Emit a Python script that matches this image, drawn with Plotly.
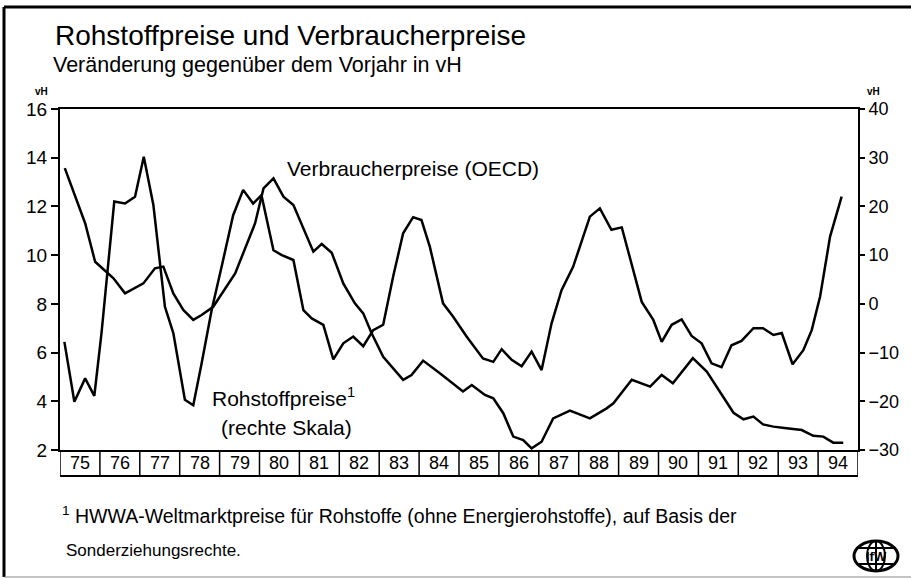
import plotly.graph_objects as go

# ---------------- data ----------------
cpi_t = [1975.12, 1975.63, 1975.88, 1976.34, 1976.63, 1977.09, 1977.38, 1977.59, 1977.84,
         1978.09, 1978.34, 1978.55, 1978.84, 1979.39, 1979.89, 1980.10, 1980.35, 1980.60,
         1980.85, 1981.35, 1981.56, 1981.81, 1982.10, 1982.39, 1982.60, 1982.81, 1983.10,
         1983.60, 1983.81, 1984.10, 1984.52, 1985.10, 1985.32, 1985.65, 1985.86, 1986.11,
         1986.36, 1986.61, 1986.82, 1987.07, 1987.36, 1987.78, 1988.28, 1988.70, 1988.87,
         1989.33, 1989.79, 1990.08, 1990.36, 1990.86, 1991.21, 1991.54, 1991.88, 1992.13,
         1992.38, 1992.62, 1992.88, 1993.21, 1993.59, 1993.88, 1994.13, 1994.38, 1994.63]
cpi_v = [13.57, 11.31, 9.73, 9.05, 8.43, 8.84, 9.46, 9.53, 8.43,
         7.75, 7.34, 7.54, 7.88, 9.25, 11.31, 12.74, 13.15, 12.40,
         12.06, 10.14, 10.46, 10.10, 8.84, 8.02, 7.61, 6.79, 5.83,
         4.88, 5.08, 5.67, 5.15, 4.40, 4.67, 4.26, 4.12, 3.51,
         2.55, 2.41, 2.07, 2.34, 3.30, 3.62, 3.30, 3.71, 3.92,
         4.88, 4.60, 5.08, 4.74, 5.77, 5.22, 4.40, 3.53, 3.26,
         3.37, 3.05, 2.96, 2.89, 2.82, 2.58, 2.55, 2.30, 2.30]

raw_t = [1975.11, 1975.36, 1975.63, 1975.86, 1976.04, 1976.21, 1976.36, 1976.63, 1976.88,
         1977.10, 1977.34, 1977.63, 1977.84, 1978.13, 1978.34, 1978.55, 1978.80, 1979.05,
         1979.34, 1979.59, 1979.84, 1980.05, 1980.35, 1980.56, 1980.85, 1981.10, 1981.31,
         1981.60, 1981.85, 1982.10, 1982.35, 1982.60, 1982.85, 1983.10, 1983.35, 1983.60,
         1983.85, 1984.06, 1984.27, 1984.60, 1984.85, 1985.19, 1985.60, 1985.86, 1986.07,
         1986.32, 1986.57, 1986.82, 1987.07, 1987.32, 1987.57, 1987.86, 1988.28, 1988.53,
         1988.82, 1989.08, 1989.33, 1989.58, 1989.87, 1990.08, 1990.33, 1990.58, 1990.83,
         1991.08, 1991.33, 1991.58, 1991.83, 1992.08, 1992.38, 1992.62, 1992.88, 1993.09,
         1993.36, 1993.63, 1993.84, 1994.05, 1994.30, 1994.59]
raw_v = [-7.8, -20.1, -15.3, -18.9, -6.0, 8.3, 21.0, 20.6, 22.0,
         30.2, 20.3, -0.6, -6.0, -19.7, -20.8, -12.2, -1.3, 7.6,
         18.2, 23.4, 20.6, 22.3, 11.0, 10.0, 9.0, -1.3, -3.0,
         -4.3, -11.4, -8.1, -6.7, -8.7, -5.4, -4.3, 5.6, 14.5,
         17.8, 17.2, 11.7, 0.1, -2.6, -6.7, -11.2, -11.9, -9.3,
         -11.5, -12.8, -9.8, -13.6, -4.0, 2.8, 7.6, 17.9, 19.6,
         15.2, 15.7, 8.3, 0.4, -3.3, -7.8, -4.3, -3.2, -6.6,
         -8.1, -12.2, -13.0, -8.5, -7.6, -5.0, -5.0, -6.4, -6.0,
         -12.4, -9.5, -5.4, 1.5, 13.8, 22.0]

years = list(range(1975, 1995))
year_labels = [f"{y % 100:02d}" for y in years]

left_ticks = [2, 4, 6, 8, 10, 12, 14, 16]
right_ticks = [-30, -20, -10, 0, 10, 20, 30, 40]

# ---------------- figure ----------------
FONT = "Liberation Sans, Arial, sans-serif"

W, H = 911, 579
L, R, T, B = 60, 858, 109, 450


def px(x):
    return (x - L) / (R - L)


def py(y):
    return (B - y) / (B - T)


fig = go.Figure()
fig.add_trace(go.Scatter(x=cpi_t, y=cpi_v, mode="lines", yaxis="y",
                         line=dict(color="black", width=2.5), showlegend=False))
fig.add_trace(go.Scatter(x=raw_t, y=raw_v, mode="lines", yaxis="y2",
                         line=dict(color="black", width=2.5), showlegend=False))

shapes = []
# year boxes under the axis
for y in years + [1995]:
    shapes.append(dict(type="line", xref="x", yref="paper", x0=y, x1=y, y0=0, y1=py(476),
                       line=dict(color="black", width=1.5)))
shapes.append(dict(type="line", xref="x", yref="paper", x0=1975, x1=1995, y0=py(476), y1=py(476),
                   line=dict(color="black", width=2)))
# page frame
shapes.append(dict(type="line", xref="paper", yref="paper", x0=px(4), x1=px(911), y0=py(7), y1=py(7),
                   line=dict(color="black", width=3)))
shapes.append(dict(type="line", xref="paper", yref="paper", x0=px(4), x1=px(4), y0=py(7), y1=py(577),
                   line=dict(color="black", width=3)))
shapes.append(dict(type="line", xref="paper", yref="paper", x0=px(4), x1=px(911), y0=py(577), y1=py(577),
                   line=dict(color="#888888", width=1)))
# logo
cx, cy, rx, ry = 876, 556, 22, 15
shapes.append(dict(type="circle", xref="paper", yref="paper", x0=px(cx - rx), x1=px(cx + rx),
                   y0=py(cy + ry), y1=py(cy - ry), line=dict(color="black", width=3)))
shapes.append(dict(type="circle", xref="paper", yref="paper", x0=px(cx - 9), x1=px(cx + 9),
                   y0=py(cy + ry), y1=py(cy - ry), line=dict(color="black", width=2)))
shapes.append(dict(type="line", xref="paper", yref="paper", x0=px(cx), x1=px(cx),
                   y0=py(cy + ry), y1=py(cy - ry), line=dict(color="black", width=2)))
for dy in (-8, 8):
    shapes.append(dict(type="line", xref="paper", yref="paper", x0=px(cx - rx + 3), x1=px(cx + rx - 3),
                       y0=py(cy + dy), y1=py(cy + dy), line=dict(color="black", width=2)))

annotations = []
for y, lab in zip(years, year_labels):
    annotations.append(dict(x=y + 0.5, y=py(463), xref="x", yref="paper", text=lab, showarrow=False,
                            font=dict(family=FONT, size=18, color="black"),
                            xanchor="center", yanchor="middle"))


def text(x, y, s, size, xanchor="left"):
    annotations.append(dict(x=px(x), y=py(y), xref="paper", yref="paper", text=s, showarrow=False,
                            font=dict(family=FONT, size=size, color="black"),
                            xanchor=xanchor, yanchor="middle", align="left"))


text(53, 36, "Rohstoffpreise und Verbraucherpreise", 28)
text(51, 65, "Veränderung gegenüber dem Vorjahr in vH", 21.5)
text(41, 91, "<b>vH</b>", 10, "center")
text(873, 91, "<b>vH</b>", 10, "center")
text(285, 168, "Verbraucherpreise (OECD)", 21)
text(357, 397, "Rohstoffpreise<sup>1</sup>", 21, "right")
text(354, 427, "(rechte Skala)", 21, "right")
text(60, 515, "<sup>1</sup> HWWA-Weltmarktpreise für Rohstoffe (ohne Energierohstoffe), auf Basis der", 19.5)
text(64, 550, "Sonderziehungsrechte.", 17)
text(cx, cy, "<b>IfW</b>", 13, "center")

fig.update_layout(
    width=W, height=H,
    margin=dict(l=L, r=W - R, t=T, b=H - B, pad=0),
    paper_bgcolor="white", plot_bgcolor="white",
    xaxis=dict(range=[1975, 1995], showgrid=False, zeroline=False, showticklabels=False, ticks="",
               showline=True, mirror=True, linecolor="black", linewidth=2),
    yaxis=dict(range=[2, 16], tickvals=left_ticks, showgrid=False, zeroline=False,
               ticks="outside", ticklen=7, tickwidth=2, tickcolor="black",
               showline=True, linecolor="black", linewidth=2,
               tickfont=dict(family=FONT, size=19, color="black")),
    yaxis2=dict(range=[-30, 40], tickvals=right_ticks, overlaying="y", side="right",
                showgrid=False, zeroline=False, ticks="outside", ticklen=5, tickwidth=2, tickcolor="black",
                showline=True, linecolor="black", linewidth=2,
                tickfont=dict(family=FONT, size=18, color="black")),
    shapes=shapes,
    annotations=annotations,
    showlegend=False,
)

fig.write_html("out.html", config={"displayModeBar": False},
               post_script="document.body.style.margin='0px';document.body.style.overflow='hidden';")
